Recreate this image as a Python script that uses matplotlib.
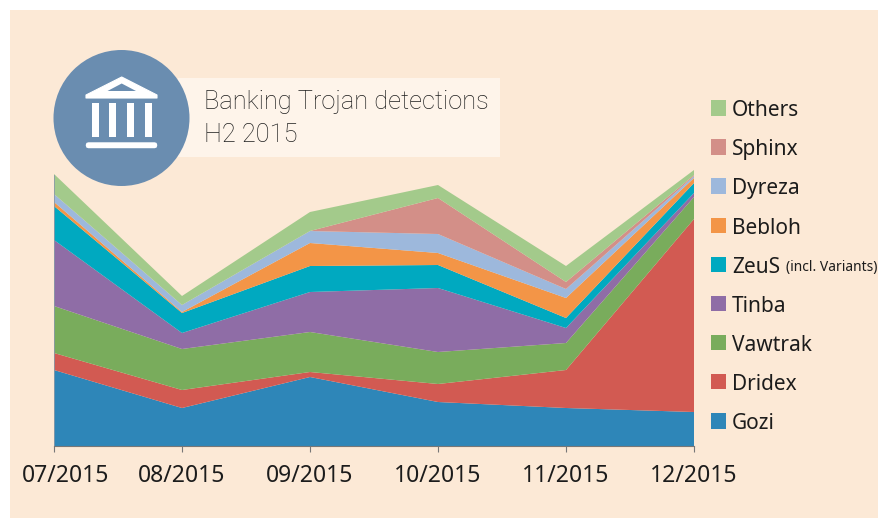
import matplotlib
matplotlib.use("Agg")
import matplotlib.pyplot as plt
from matplotlib.patches import Circle, Rectangle, Polygon, FancyBboxPatch
from matplotlib.transforms import ScaledTranslation
import numpy as np

W, H = 879, 518

months = ['07/2015', '08/2015', '09/2015', '10/2015', '11/2015', '12/2015']

# values (no axis in the original, unit = pixel height of each band)
gozi    = [76, 38, 69, 44, 38, 34]
dridex  = [17, 18, 5, 18, 38, 193]
vawtrak = [47, 41, 40, 32, 27, 22]
tinba   = [66, 16, 40, 64, 15, 4]
zeus    = [34, 20, 26, 23, 10, 10]
bebloh  = [4, 1, 23, 12, 20, 5]
dyreza  = [8, 7, 12, 19, 9, 2]
sphinx  = [0, 0, 0, 36, 7, 1]
others  = [20, 9, 19, 13, 16, 5]

names = ['Gozi', 'Dridex', 'Vawtrak', 'Tinba', 'ZeuS', 'Bebloh', 'Dyreza', 'Sphinx', 'Others']
colors = ['#2e86b8', '#d25a52', '#79ac5c', '#8f6da6', '#00a9c0',
          '#f39547', '#9db8dc', '#d38f88', '#a3ca8b']

bg = '#fce9d6'
text_col = '#1c1c1c'
font = 'Noto Sans'

fig = plt.figure(figsize=(W / 100, H / 100), dpi=100, facecolor='white')
fig.patches.append(Rectangle((10 / W, 0), 1, 1 - 10 / H, transform=fig.transFigure,
                             facecolor=bg, edgecolor='none', zorder=-1))

# Stacked area
ax = fig.add_axes([54 / W, (H - 446) / H, 640 / W, 286 / H])
ax.patch.set_alpha(0)
x = np.arange(len(months))
polys = ax.stackplot(x, gozi, dridex, vawtrak, tinba, zeus, bebloh, dyreza, sphinx, others,
                     colors=colors, labels=names, linewidth=0)
ax.set_xlim(0, 5)
ax.set_ylim(0, 286)
ax.set_yticks([])
ax.set_xticks(x)
ax.set_xticklabels(months, fontsize=16.5, family=font, color=text_col)
ax.tick_params(axis='x', length=4.2, width=0.8, color='#777777', pad=8.5)
first = ax.get_xticklabels()[0]
first.set_transform(first.get_transform() + ScaledTranslation(12 / 100, 0, fig.dpi_scale_trans))
for s in ['top', 'right']:
    ax.spines[s].set_visible(False)
ax.spines['left'].set_color('#8a9aa8')
ax.spines['left'].set_linewidth(0.6)
ax.spines['left'].set_bounds(0, 271)
ax.spines['bottom'].set_color('#777777')
ax.spines['bottom'].set_linewidth(0.8)

# Overlay in pixel coordinates for title block, icon and legend
ov = fig.add_axes([0, 0, 1, 1])
ov.set_xlim(0, W)
ov.set_ylim(H, 0)
ov.axis('off')

ov.add_patch(Rectangle((178, 78), 322, 79, facecolor='#fef4ea', edgecolor='none'))
ov.add_patch(Circle((121.5, 118), 68, facecolor='#6a8db0', edgecolor='none'))
ov.text(204, 102, 'Banking Trojan detections', fontsize=18.3, family='Roboto', weight='light',
        color='#1e1e1e', va='center')
ov.text(204, 135, 'H2 2015', fontsize=18.3, family='Roboto', weight='light',
        color='#1e1e1e', va='center')

# Bank icon
ov.add_patch(Polygon([(121.7, 77), (157, 95), (157, 98), (86, 98), (86, 95)], closed=True,
                     facecolor='white', edgecolor='white', linewidth=0.8, joinstyle='round'))
ov.add_patch(Polygon([(107.5, 91), (136, 91), (121.7, 83.5)], closed=True,
                     facecolor='#6a8db0', edgecolor='none'))
for cx in [92, 109.5, 127, 145]:
    ov.add_patch(Rectangle((cx - 0.2, 102.5), 7, 34.5, facecolor='white', edgecolor='none'))
ov.add_patch(FancyBboxPatch((88, 144.5), 67, 1.5, boxstyle='round,pad=0,rounding_size=0.7',
                            facecolor='white', edgecolor='white', linewidth=3.2))

# Legend, top entry is the top band
for i, (name, col) in enumerate(zip(names, colors)):
    yc = 421 - i * 39.1
    ov.add_patch(Rectangle((711, yc - 8), 15.5, 15.5, facecolor=col, edgecolor='none'))
    t = ov.text(732, yc, name, fontsize=15, family=font, color=text_col, va='center_baseline')
    if name == 'ZeuS':
        ov.text(786, yc + 1, '(incl. Variants)', fontsize=10, family=font, color=text_col,
                va='center_baseline')

fig.savefig('out.png', dpi=100, facecolor='white')
